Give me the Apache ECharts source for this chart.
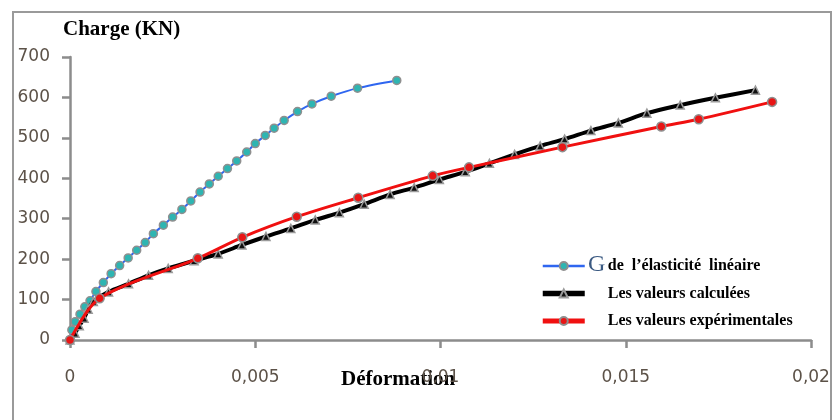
<!DOCTYPE html>
<html>
<head>
<meta charset="utf-8">
<script src="https://cdn.jsdelivr.net/npm/echarts@6/dist/echarts.min.js"></script>
<style>
  html, body { margin: 0; padding: 0; background: #fff; }
  #chart { width: 834px; height: 420px; }
</style>
</head>
<body>
<div id="chart"></div>
<script>
// Load–strain curves: deformation (x) vs. load in kN (y)
const seriesNames = [
  'de  l’élasticité  linéaire',
  'Les valeurs calculées',
  'Les valeurs expérimentales'
];

// Linear elasticity model
const elasticX = [0, 0.00005, 0.00014, 0.00027, 0.0004, 0.00054, 0.0007, 0.0009, 0.00111, 0.00134,
  0.00157, 0.0018, 0.00203, 0.00225, 0.00252, 0.00277, 0.00302, 0.00326, 0.00351, 0.00376,
  0.004, 0.00425, 0.0045, 0.00477, 0.005, 0.00527, 0.00551, 0.00578, 0.00614, 0.00653,
  0.00705, 0.00776, 0.00882];
const elasticY = [0, 25, 45, 64, 82, 97, 120, 142, 164, 184,
  203, 222, 241, 263, 284, 304, 323, 344, 366, 386,
  405, 424, 443, 465, 486, 506, 524, 543, 565, 584,
  603, 623, 642];

// Calculated values
const calcX = [0, 0.000135, 0.00025, 0.00038, 0.00049, 0.00063, 0.00104, 0.00158, 0.00212, 0.00265,
  0.00335, 0.004, 0.00464, 0.00529, 0.00596, 0.00662, 0.00727, 0.00794, 0.00864, 0.00929,
  0.00997, 0.01067, 0.01132, 0.012, 0.01269, 0.01335, 0.01406, 0.0148, 0.01557, 0.01647,
  0.01742, 0.0185];
const calcY = [0, 17, 35, 54, 76, 95, 119, 139, 160, 177,
  196, 213, 235, 256, 276, 297, 315, 336, 360, 377,
  397, 416, 437, 459, 480, 497, 518, 537, 561, 581,
  599, 618];

// Experimental values
const expX = [0, 0.0008, 0.00345, 0.00465, 0.00612, 0.00778, 0.00979, 0.01077, 0.01329, 0.01596, 0.01697, 0.01895];
const expY = [0, 103, 202, 254, 305, 352, 406, 427, 477, 528, 546, 589];

// Axis ticks
const xTicks = [0, 0.005, 0.01, 0.015, 0.02];
const yTicks = [0, 100, 200, 300, 400, 500, 600, 700];

const pair = (xs, ys) => xs.map((x, i) => [x, ys[i]]);

const chart = echarts.init(document.getElementById('chart'), null, { renderer: 'canvas' });

const serif = '"Liberation Serif", "DejaVu Serif", serif';
const tickColor = '#5c5248';
const axisColor = '#8c8c8c';

const option = {
  animation: false,
  backgroundColor: '#fff',
  grid: { left: 70, right: 23, top: 57, bottom: 80 },
  xAxis: {
    type: 'value',
    min: xTicks[0],
    max: xTicks[xTicks.length - 1],
    interval: xTicks[1] - xTicks[0],
    splitLine: { show: false },
    axisLine: { lineStyle: { color: axisColor, width: 2.5 } },
    axisTick: { length: 8, lineStyle: { color: axisColor, width: 2.5 } },
    axisLabel: {
      margin: 29,
      color: tickColor,
      fontFamily: '"DejaVu Sans", Verdana, sans-serif',
      fontSize: 17,
      formatter: v => (v === 0 ? '0' : String(+v.toFixed(4)).replace('.', ','))
    }
  },
  yAxis: {
    type: 'value',
    min: yTicks[0],
    max: yTicks[yTicks.length - 1],
    interval: yTicks[1] - yTicks[0],
    splitLine: { show: false },
    axisLine: { show: true, lineStyle: { color: axisColor, width: 2.5 } },
    axisTick: { show: true, length: 8, lineStyle: { color: axisColor, width: 2.5 } },
    axisLabel: {
      margin: 20,
      color: tickColor,
      fontFamily: '"DejaVu Sans", Verdana, sans-serif',
      fontSize: 17
    }
  },
  legend: {
    orient: 'vertical',
    left: 540,
    top: 258,
    padding: 0,
    itemWidth: 42,
    itemHeight: 10,
    itemGap: 11.5,
    textStyle: {
      fontFamily: serif,
      fontWeight: 'bold',
      fontSize: 16,
      lineHeight: 16,
      color: '#000',
      rich: {
        t: { fontFamily: serif, fontWeight: 'bold', fontSize: 16, lineHeight: 16, color: '#000' },
        sp: { width: 18, lineHeight: 16 }
      }
    },
    formatter: name => '{sp|}{t|' + name + '}',
    data: [
      { name: seriesNames[0], lineStyle: { width: 2.5 } },
      { name: seriesNames[1], lineStyle: { width: 5.5 } },
      { name: seriesNames[2], lineStyle: { width: 5 } }
    ]
  },
  graphic: [
    {
      type: 'rect',
      z: -1,
      shape: { x: 13, y: 12, width: 818, height: 430 },
      style: { fill: 'none', stroke: '#9a9a9a', lineWidth: 2 }
    },
    {
      type: 'text',
      left: 63,
      top: 19,
      style: { text: 'Charge (KN)', font: 'bold 21px ' + serif, fill: '#000' }
    },
    {
      type: 'text',
      left: 341,
      top: 369,
      style: { text: 'Déformation', font: 'bold 21px ' + serif, fill: '#000' }
    },
    {
      // leading letter of the first legend entry
      type: 'text',
      left: 588,
      top: 253,
      z: 10,
      style: { text: 'G', font: '24px ' + serif, fill: '#3b5a82' }
    }
  ],
  series: [
    {
      name: seriesNames[0],
      type: 'line',
      data: pair(elasticX, elasticY),
      smooth: 0.3,
      symbol: 'circle',
      symbolSize: 8,
      lineStyle: { color: '#2f66f0', width: 2 },
      itemStyle: { color: '#2eb5b2', borderColor: '#8f8f8f', borderWidth: 1.5 },
      z: 3
    },
    {
      name: seriesNames[1],
      type: 'line',
      data: pair(calcX, calcY),
      smooth: 0.3,
      symbol: 'triangle',
      symbolSize: 8,
      lineStyle: { color: '#000', width: 4 },
      itemStyle: { color: '#111', borderColor: '#9a9a9a', borderWidth: 1.5 },
      z: 4
    },
    {
      name: seriesNames[2],
      type: 'line',
      data: pair(expX, expY),
      smooth: 0.3,
      symbol: 'circle',
      symbolSize: 9,
      lineStyle: { color: '#f01010', width: 3 },
      itemStyle: { color: '#e81515', borderColor: '#8f8f8f', borderWidth: 1.5 },
      z: 5
    }
  ]
};

chart.setOption(option);
</script>
</body>
</html>
